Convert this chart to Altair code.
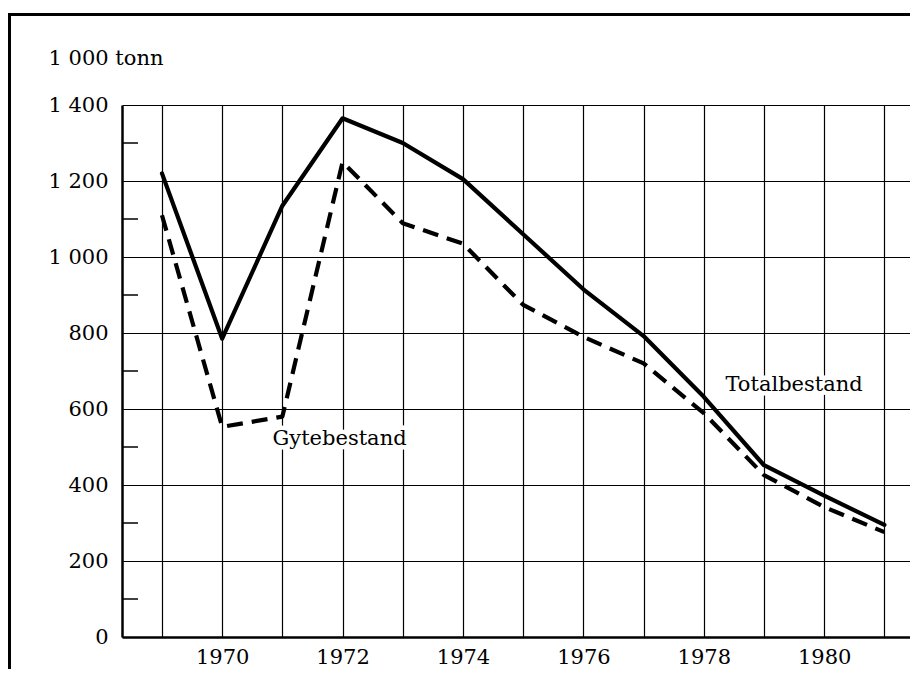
import altair as alt
import pandas as pd

years = list(range(1969, 1982))
totalbestand = [1220, 785, 1135, 1365, 1300, 1205, 1060, 915, 792, 632, 452, 372, 295]
gytebestand = [1110, 553, 580, 1250, 1089, 1035, 874, 790, 720, 589, 426, 342, 276]

y_major = [0, 200, 400, 600, 800, 1000, 1200, 1400]
y_minor = [100, 300, 500, 700, 900, 1100, 1300]

label_text = ["Gytebestand", "Totalbestand"]
label_year = [1971.95, 1979.5]
label_value = [521, 663]

FONT = "DejaVu Serif"
FS = 21
W, H = 788, 532

df_total = pd.DataFrame({"year": years, "value": totalbestand})
df_gyte = pd.DataFrame({"year": years, "value": gytebestand})
df_minor = pd.DataFrame({"value": y_minor})
df_lab = pd.DataFrame({"text": label_text, "year": label_year, "value": label_value})

xscale = alt.Scale(domain=[1968.336, 1981.425], nice=False, zero=False)
yscale = alt.Scale(domain=[0, 1400], nice=False)

xaxis = alt.Axis(
    values=years, format="d",
    labelExpr="datum.value % 2 == 0 ? datum.label : ''",
    grid=True, gridColor="black", gridWidth=1.2, gridOpacity=1,
    ticks=False, tickSize=0, domain=True, domainColor="black", domainWidth=2.5,
    labelFont=FONT, labelFontSize=FS, labelColor="black", labelPadding=9,
    title=None, labelFlush=False,
)
yaxis = alt.Axis(
    values=y_major,
    labelExpr="replace(format(datum.value, ','), ',', ' ')",
    grid=True, gridColor="black", gridWidth=1.2, gridOpacity=1,
    ticks=False, tickSize=0, domain=True, domainColor="black", domainWidth=2.5,
    labelFont=FONT, labelFontSize=FS, labelColor="black", labelPadding=14,
    title="1 000 tonn", titleAngle=0, titleAlign="left", titleBaseline="middle",
    titleX=-74, titleY=-47, titleFont=FONT, titleFontSize=FS,
    titleFontWeight="normal", titleColor="black",
)

base_grid = alt.Chart(df_total).mark_line(opacity=0).encode(
    x=alt.X("year:Q", scale=xscale, axis=xaxis),
    y=alt.Y("value:Q", scale=yscale, axis=yaxis),
)

minor = alt.Chart(df_minor).mark_rule(color="black", strokeWidth=1.5).encode(
    x=alt.value(0), x2=alt.value(16),
    y=alt.Y("value:Q", scale=yscale),
)

halo = alt.Chart(df_lab).mark_text(
    font=FONT, fontSize=FS, stroke="white", strokeWidth=9, color="white",
    align="center", baseline="middle",
).encode(
    x=alt.X("year:Q", scale=xscale), y=alt.Y("value:Q", scale=yscale), text="text:N"
)
labels = alt.Chart(df_lab).mark_text(
    font=FONT, fontSize=FS, color="black", align="center", baseline="middle",
).encode(
    x=alt.X("year:Q", scale=xscale), y=alt.Y("value:Q", scale=yscale), text="text:N"
)

line_total = alt.Chart(df_total).mark_line(
    color="black", strokeWidth=4.2, strokeCap="round", strokeJoin="round"
).encode(
    x=alt.X("year:Q", scale=xscale), y=alt.Y("value:Q", scale=yscale)
)
line_gyte = alt.Chart(df_gyte).mark_line(
    color="black", strokeWidth=4.2, strokeDash=[16, 9], strokeJoin="round"
).encode(
    x=alt.X("year:Q", scale=xscale), y=alt.Y("value:Q", scale=yscale)
)

frame_left = alt.Chart(df_minor).mark_rule(color="black", strokeWidth=3).encode(
    x=alt.value(-112.5), y=alt.value(-92), y2=alt.value(564)
)
frame_top = alt.Chart(df_minor).mark_rule(color="black", strokeWidth=3).encode(
    y=alt.value(-90.5), x=alt.value(-114), x2=alt.value(W)
)

chart = alt.layer(
    base_grid, minor, halo, labels, line_gyte, line_total, frame_left, frame_top
).properties(
    width=W, height=H,
    autosize=alt.AutoSizeParams(type="none"),
    padding={"left": 114, "top": 97, "right": 0, "bottom": 32},
    background="white",
).configure_view(strokeWidth=0)

chart.save("out.html", embed_options={"renderer": "svg", "actions": False})
